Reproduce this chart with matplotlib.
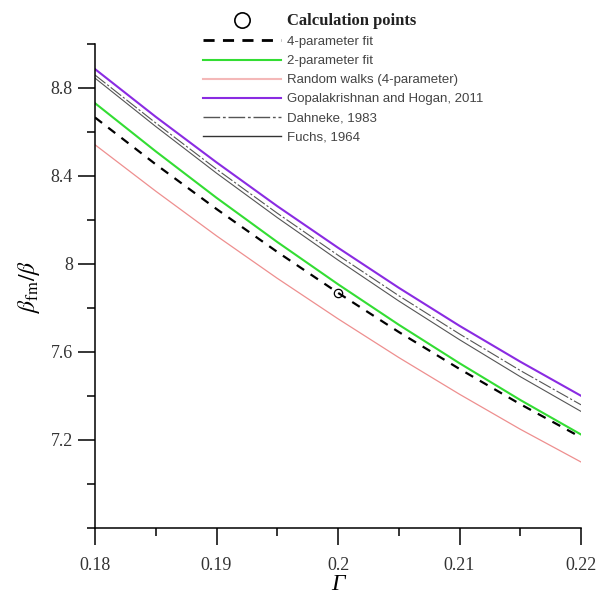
import matplotlib
matplotlib.use("Agg")
import matplotlib.pyplot as plt
from matplotlib.lines import Line2D
import numpy as np

plt.rcParams['mathtext.fontset'] = 'stix'

## valores
gamma = [0.18, 0.185, 0.19, 0.195, 0.20, 0.205, 0.21, 0.215, 0.22]
fit4 = [8.666, 8.453, 8.250, 8.055, 7.869, 7.691, 7.523, 7.363, 7.212]
fit2 = [8.731, 8.512, 8.301, 8.100, 7.908, 7.724, 7.549, 7.382, 7.225]
random_walks = [8.542, 8.331, 8.128, 7.935, 7.751, 7.575, 7.408, 7.249, 7.100]
gopalakrishnan = [8.886, 8.669, 8.462, 8.263, 8.074, 7.892, 7.719, 7.556, 7.401]
dahneke = [8.859, 8.641, 8.431, 8.231, 8.040, 7.856, 7.682, 7.516, 7.360]
fuchs = [8.845, 8.625, 8.413, 8.211, 8.018, 7.832, 7.656, 7.488, 7.330]

calc_x = [0.20]
calc_y = [7.87]

labels = ['Calculation points', '4-parameter fit', '2-parameter fit',
          'Random walks (4-parameter)', 'Gopalakrishnan and Hogan, 2011',
          'Dahneke, 1983', 'Fuchs, 1964']

fig = plt.figure(figsize=(6.09, 5.97), dpi=100)
ax = fig.add_axes([95/609, 1-528/597, 486/609, 484/597])

ax.plot(gamma, random_walks, color='#ee8f8f', lw=0.9)
ax.plot(gamma, fuchs, color='#555555', lw=0.8)
ax.plot(gamma, dahneke, color='#555555', lw=0.8, linestyle=(0, (12, 2, 2, 2)))
ax.plot(gamma, gopalakrishnan, color='#8a2be2', lw=1.5)
ax.plot(gamma, fit2, color='#33dd33', lw=1.5)
ax.plot(gamma, fit4, color='black', lw=1.6, linestyle=(0, (4, 3.5)))
ax.plot(calc_x, calc_y, 'o', mfc='none', mec='black', mew=0.9, ms=6)

ax.set_xlim(0.18, 0.22)
ax.set_ylim(6.8, 9.0)
ax.set_xticks([0.18, 0.19, 0.20, 0.21, 0.22])
ax.set_xticklabels(['0.18', '0.19', '0.2', '0.21', '0.22'])
ax.set_xticks([0.185, 0.195, 0.205, 0.215], minor=True)
ax.set_yticks([7.2, 7.6, 8.0, 8.4, 8.8])
ax.set_yticklabels(['7.2', '7.6', '8', '8.4', '8.8'])
ax.set_yticks([6.8, 7.0, 7.4, 7.8, 8.2, 8.6, 9.0], minor=True)

for s in ['top', 'right']:
    ax.spines[s].set_visible(False)
for s in ['left', 'bottom']:
    ax.spines[s].set_linewidth(1.1)
ax.tick_params(which='major', length=12, width=1.1, direction='out',
               labelsize=13, colors='black')
ax.tick_params(axis='x', which='major', pad=9)
ax.tick_params(axis='y', which='major', pad=4)
ax.tick_params(which='minor', length=6, width=1.1, direction='out')
for t in ax.get_xticklabels() + ax.get_yticklabels():
    t.set_fontfamily('Liberation Serif')
    t.set_color('#333333')

ax.set_ylabel(r'$\beta_{\mathrm{fm}}/\beta$', fontsize=17, labelpad=6)
ax.set_xlabel('Γ', fontsize=17, fontstyle='italic', fontfamily='Liberation Serif',
              labelpad=0)

handles = [
    Line2D([], [], marker='o', ls='none', mfc='none', mec='black', mew=1.2, ms=11),
    Line2D([], [], color='black', lw=2, linestyle=(0, (4, 3))),
    Line2D([], [], color='#33dd33', lw=1.5),
    Line2D([], [], color='#f4b8b8', lw=1.5),
    Line2D([], [], color='#8a2be2', lw=1.5),
    Line2D([], [], color='#555555', lw=1, linestyle=(0, (12, 2, 2, 2))),
    Line2D([], [], color='#333333', lw=1),
]
leg = ax.legend(handles, labels, loc='upper left', bbox_to_anchor=(203/609, 1-13/597),
                bbox_transform=fig.transFigure, frameon=False, borderpad=0,
                borderaxespad=0, handlelength=5.9, handletextpad=0.5,
                labelspacing=0.52, prop={'family': 'Liberation Sans', 'size': 9.5})
for t in leg.get_texts():
    t.set_color('#444444')
leg.get_texts()[0].set_fontfamily('Liberation Serif')
leg.get_texts()[0].set_fontsize(12)
leg.get_texts()[0].set_fontweight('bold')
leg.get_texts()[0].set_color('#222222')

fig.savefig('out.png', dpi=100)
